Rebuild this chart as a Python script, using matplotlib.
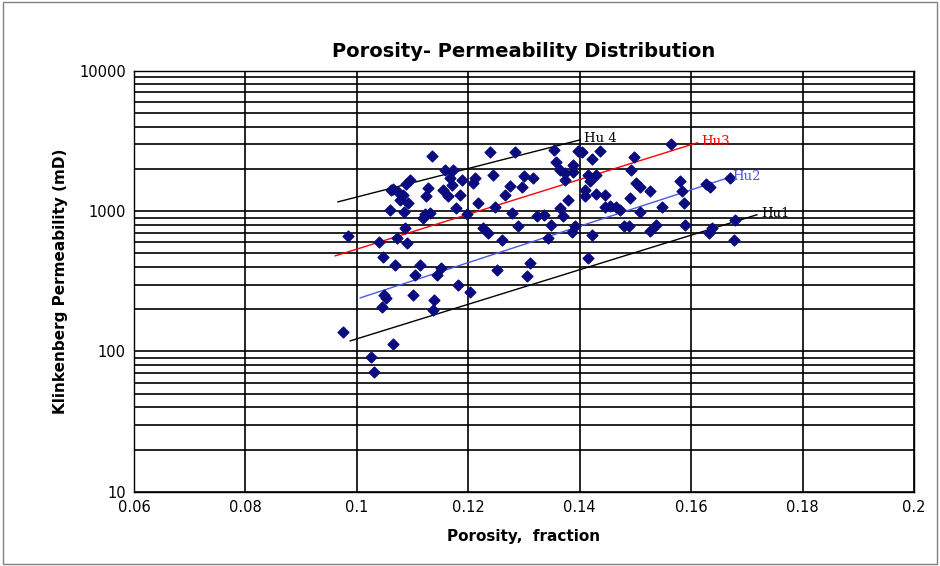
import numpy as np
import matplotlib.pyplot as plt
from matplotlib.ticker import LogLocator, FixedLocator, NullFormatter

# core samples (porosity fraction, Klinkenberg permeability mD)
porosity = [
    0.0975, 0.0984, 0.1025, 0.1031, 0.1040, 0.1047, 0.1049, 0.1045, 0.1052, 0.1065,
    0.1060, 0.1069, 0.1061, 0.1065, 0.1072, 0.1074, 0.1078, 0.1085, 0.1088, 0.1083,
    0.1092, 0.1096, 0.1087, 0.1090, 0.1101, 0.1104, 0.1113, 0.1119, 0.1122, 0.1128,
    0.1131, 0.1124, 0.1135, 0.1137, 0.1139, 0.1144, 0.1151, 0.1158, 0.1164, 0.1167,
    0.1171, 0.1155, 0.1173, 0.1178, 0.1182, 0.1185, 0.1189, 0.1198, 0.1203, 0.1209,
    0.1212, 0.1218, 0.1227, 0.1236, 0.1239, 0.1245, 0.1248, 0.1252, 0.1261, 0.1266,
    0.1275, 0.1284, 0.1279, 0.1289, 0.1297, 0.1300, 0.1306, 0.1311, 0.1316, 0.1324,
    0.1336, 0.1343, 0.1349, 0.1354, 0.1358, 0.1365, 0.1370, 0.1374, 0.1379, 0.1386,
    0.1392, 0.1397, 0.1404, 0.1410, 0.1415, 0.1419, 0.1422, 0.1429, 0.1437, 0.1446,
    0.1455, 0.1465, 0.1473, 0.1480, 0.1489, 0.1492, 0.1498, 0.1501, 0.1508, 0.1526,
    0.1537, 0.1548, 0.1564, 0.1580, 0.1584, 0.1587, 0.1589, 0.1627, 0.1634, 0.1638,
    0.1632, 0.1670, 0.1679, 0.1677, 0.1415, 0.1422, 0.1388, 0.1374, 0.1365, 0.1388,
    0.1410, 0.1430, 0.1446, 0.1490, 0.1508, 0.1526,
]
permeability = [
    138, 667, 92, 72, 604, 472, 253, 208, 241, 113,
    1022, 414, 1418, 1440, 645, 1373, 1204, 989, 1566, 1306,
    1146, 1672, 760, 594, 253, 352, 414, 896, 957, 1466,
    973, 1285, 2480, 198, 233, 352, 394, 1970, 1285, 1727,
    1540, 1418, 1970, 1057, 298, 1306, 1672, 957, 266, 1592,
    1727, 1146, 760, 700, 2650, 1815, 1074, 382, 624, 1306,
    1515, 2650, 973, 786, 1490, 1785, 346, 428, 1727, 927,
    942, 645, 798, 2735, 2245, 1057, 927, 1672, 1204, 712,
    786, 2690, 2650, 1418, 1815, 1645, 678, 1815, 2690, 1074,
    1090, 1074, 1022, 786, 786, 1970, 2440, 1592, 989, 724,
    798, 1074, 3000, 1645, 1400, 1140, 798, 1565, 1490, 760,
    696, 1727, 867, 620, 464, 2360, 1905, 1875, 1960, 2140,
    1285, 1328, 1305, 1250, 1480, 1390,
]

# trend lines for hydraulic units (endpoints)
hu_names = ["Hu 4", "Hu3", "Hu2", "Hu1"]
hu_colors = ["black", "red", "#4a5ae8", "black"]
hu_phi = [(0.0966, 0.1401), (0.0961, 0.1611), (0.1006, 0.1666), (0.0988, 0.1718)]
hu_k = [(1164, 3221), (480, 3070), (241, 1726), (119, 942)]

fig = plt.figure(figsize=(9.4, 5.66), dpi=100)
ax = fig.add_axes([0.1426, 0.131, 0.8298, 0.744])
ax.set_xscale("linear")
ax.set_yscale("log")
ax.set_xlim(0.06, 0.2)
ax.set_ylim(10, 10000)

ax.xaxis.set_major_locator(FixedLocator(np.arange(0.06, 0.2001, 0.02)))
ax.set_xticklabels(["0.06", "0.08", "0.1", "0.12", "0.14", "0.16", "0.18", "0.2"])
ax.yaxis.set_major_locator(FixedLocator([10, 100, 1000, 10000]))
ax.set_yticklabels(["10", "100", "1000", "10000"])
ax.yaxis.set_minor_locator(LogLocator(base=10, subs=np.arange(2, 10)))
ax.yaxis.set_minor_formatter(NullFormatter())
ax.grid(True, which="major", axis="both", color="black", lw=1.2)
ax.grid(True, which="minor", axis="y", color="black", lw=1.2)
ax.tick_params(which="both", length=0, labelsize=10.5, pad=6)
for s in ax.spines.values():
    s.set_color("black")
    s.set_linewidth(1)

ax.scatter(porosity, permeability, marker="D", s=30, color="#0b0b80", zorder=3)

for name, c, ph, k in zip(hu_names, hu_colors, hu_phi, hu_k):
    ax.plot(ph, k, color=c, lw=1, zorder=2)
    ax.text(ph[1] + 0.0007, k[1] * 1.02, name, color=c, fontsize=9.5,
            family="DejaVu Serif", va="center", ha="left")

ax.set_title("Porosity- Permeability Distribution", fontsize=14, fontweight="bold", pad=10)
ax.set_xlabel("Porosity,  fraction", fontsize=11, fontweight="bold", labelpad=10)
ax.set_ylabel("Klinkenberg Permeability (mD)", fontsize=11, fontweight="bold", labelpad=8)

fig.patches.append(plt.Rectangle((0.003, 0.003), 0.994, 0.994, transform=fig.transFigure,
                                 fill=False, edgecolor="#808080", lw=1))
fig.savefig("out.png", dpi=100)
